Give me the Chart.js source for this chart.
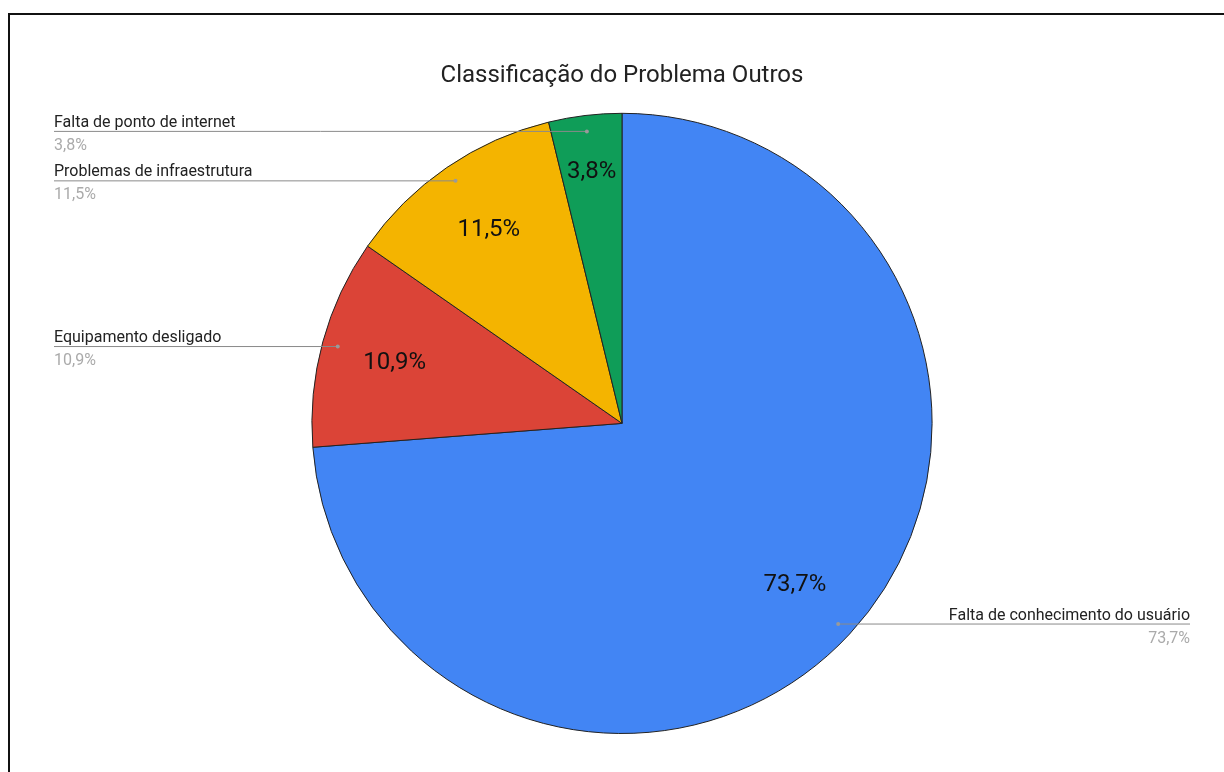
<!DOCTYPE html>
<html>
<head>
<meta charset="utf-8">
<script src="https://cdn.jsdelivr.net/npm/chart.js@4/dist/chart.umd.min.js"></script>
<style>
    body { margin: 0; background: #fff; overflow: hidden; }
    #frame {
        position: absolute; left: 8px; top: 13px; width: 1300px; height: 900px;
        border-top: 2px solid #111; border-left: 2px solid #111;
    }
    #wrap { position: absolute; left: 0; top: 0; width: 1224px; height: 772px; }
</style>
</head>
<body>
<div id="frame"></div>
<div id="wrap"><canvas id="pie-chart" width="1224" height="772"></canvas></div>
<script>
const TITLE = "Classificação do Problema Outros";
const categories = [
    "Falta de conhecimento do usuário",
    "Equipamento desligado",
    "Problemas de infraestrutura",
    "Falta de ponto de internet"
];
const values = [73.7, 10.9, 11.5, 3.8];
const colors = ["#4285F4", "#DB4437", "#F4B400", "#0F9D58"];

function formatPct(v) {
    return v.toFixed(1).replace(".", ",") + "%";
}

// labels inside the slices + leader lines to the side labels
const labelPlugin = {
    id: "sliceLabels",
    afterDatasetsDraw(chart) {
        const ctx = chart.ctx;
        const meta = chart.getDatasetMeta(0);

        meta.data.forEach((arc, i) => {
            const p = arc.getProps(["x", "y", "startAngle", "endAngle", "outerRadius"], true);
            const mid = (p.startAngle + p.endAngle) / 2;
            const share = (p.endAngle - p.startAngle) / (Math.PI * 2);

            // percent inside the slice
            const f = share < 0.06 ? 0.82 : 0.76;
            const tx = p.x + Math.cos(mid) * p.outerRadius * f;
            const ty = p.y + Math.sin(mid) * p.outerRadius * f;
            ctx.save();
            ctx.font = "24px Roboto";
            ctx.fillStyle = "#111";
            ctx.textAlign = "center";
            ctx.textBaseline = "middle";
            ctx.fillText(formatPct(values[i]), tx, ty + 1);

            // leader line
            const px = p.x + Math.cos(mid) * p.outerRadius * 0.95;
            const py = p.y + Math.sin(mid) * p.outerRadius * 0.95;
            const right = Math.cos(mid) > 0;
            const ex = right ? 1190 : 54;

            ctx.strokeStyle = "#8a8a8a";
            ctx.lineWidth = 1;
            ctx.beginPath();
            ctx.moveTo(px, py + 0.5);
            ctx.lineTo(ex, py + 0.5);
            ctx.stroke();

            ctx.fillStyle = "#9a9a9a";
            ctx.beginPath();
            ctx.arc(px, py + 0.5, 2, 0, Math.PI * 2);
            ctx.fill();

            ctx.textAlign = right ? "right" : "left";
            ctx.textBaseline = "alphabetic";
            ctx.font = "16px Roboto";
            ctx.fillStyle = "#222";
            ctx.fillText(categories[i], ex, py - 4);
            ctx.fillStyle = "#aaa";
            ctx.fillText(formatPct(values[i]), ex, py + 19);
            ctx.restore();
        });
    }
};

const ctx = document.getElementById("pie-chart").getContext("2d");
new Chart(ctx, {
    type: "pie",
    data: {
        labels: categories,
        datasets: [{
            data: values,
            backgroundColor: colors,
            borderColor: "#222",
            borderWidth: 1
        }]
    },
    options: {
        responsive: false,
        animation: false,
        layout: { padding: { left: 20, right: 0, top: 0, bottom: 38 } },
        plugins: {
            legend: { display: false },
            tooltip: { enabled: false },
            title: {
                display: true,
                text: TITLE,
                color: "#222",
                font: { family: "Roboto", size: 24, weight: "normal" },
                padding: { top: 62, bottom: 22 }
            }
        }
    },
    plugins: [labelPlugin]
});
</script>
</body>
</html>
